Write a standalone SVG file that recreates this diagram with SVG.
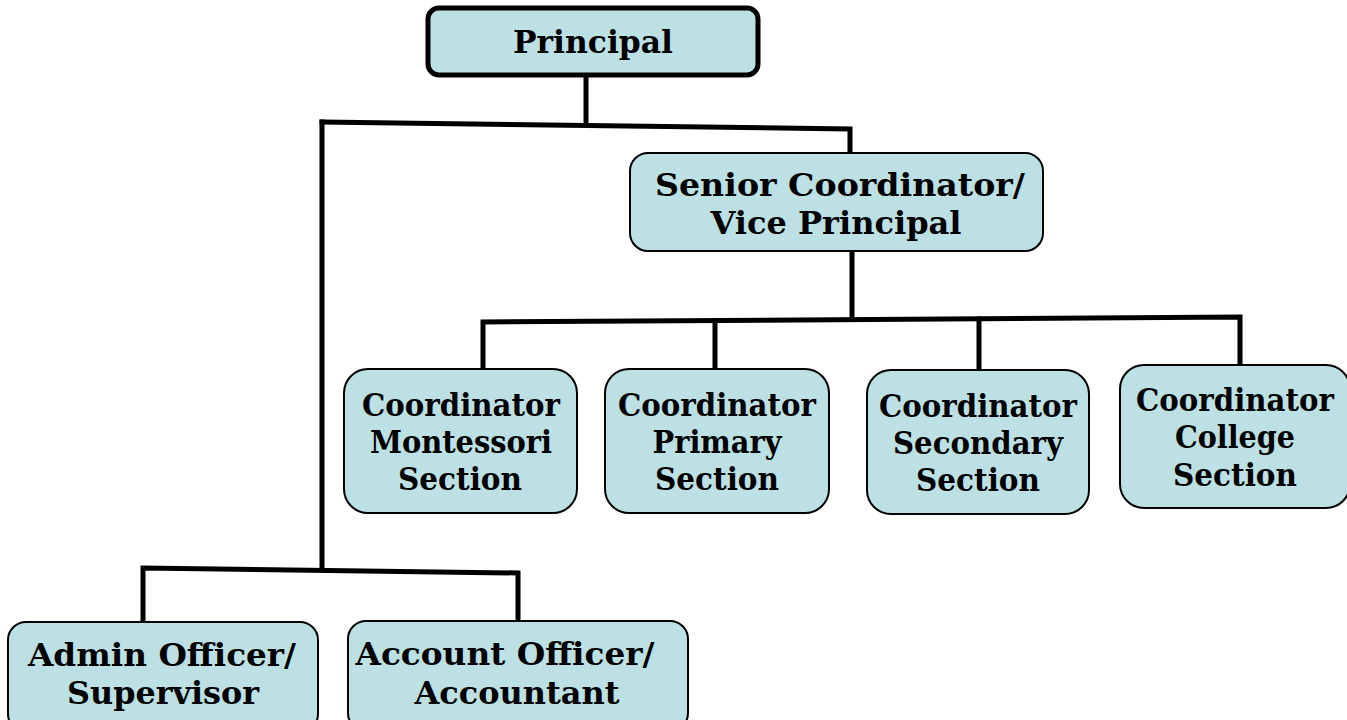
<svg xmlns="http://www.w3.org/2000/svg" width="1347" height="720" viewBox="0 0 1347 720">
  <style>
    .box { fill: #bce0e3; stroke: #000; stroke-width: 2; }
    .top { stroke-width: 5; }
    .lbl { font-family: "DejaVu Serif", "Liberation Serif", serif; font-weight: bold; font-size: 32px; fill: #000; text-anchor: middle; }
    .wire { fill: none; stroke: #000; stroke-width: 5; stroke-linecap: square; }
  </style>
  <rect width="1347" height="720" fill="#fff"/>

  <g id="connectors">
    <path class="wire" d="M586 76 V125"/>
    <path class="wire" d="M322 122 L850 129 V152"/>
    <path class="wire" d="M322 122 V568"/>
    <path class="wire" d="M852 252 V319"/>
    <path class="wire" d="M483 368 V322 L1240 317 V364"/>
    <path class="wire" d="M715 321 V368"/>
    <path class="wire" d="M979 319 V369"/>
    <path class="wire" d="M143 622 V568 L518 573 V620"/>
  </g>

  <g id="principal">
    <rect class="box top" x="428" y="8" width="330" height="67" rx="11"/>
    <text class="lbl" x="593" y="53" textLength="160" lengthAdjust="spacingAndGlyphs">Principal</text>
  </g>

  <g id="senior-coordinator">
    <rect class="box" x="630" y="153" width="413" height="98" rx="18"/>
    <text class="lbl" x="840" y="196" textLength="370" lengthAdjust="spacingAndGlyphs">Senior Coordinator/</text>
    <text class="lbl" x="836" y="234" textLength="251" lengthAdjust="spacingAndGlyphs">Vice Principal</text>
  </g>

  <g id="coord-montessori">
    <rect class="box" x="344" y="369" width="233" height="144" rx="24"/>
    <text class="lbl" x="461" y="416" textLength="198" lengthAdjust="spacingAndGlyphs">Coordinator</text>
    <text class="lbl" x="461" y="453" textLength="182" lengthAdjust="spacingAndGlyphs">Montessori</text>
    <text class="lbl" x="460" y="490" textLength="124" lengthAdjust="spacingAndGlyphs">Section</text>
  </g>

  <g id="coord-primary">
    <rect class="box" x="605" y="369" width="224" height="144" rx="24"/>
    <text class="lbl" x="717" y="416" textLength="198" lengthAdjust="spacingAndGlyphs">Coordinator</text>
    <text class="lbl" x="717" y="453" textLength="129" lengthAdjust="spacingAndGlyphs">Primary</text>
    <text class="lbl" x="717" y="490" textLength="124" lengthAdjust="spacingAndGlyphs">Section</text>
  </g>

  <g id="coord-secondary">
    <rect class="box" x="867" y="370" width="222" height="144" rx="24"/>
    <text class="lbl" x="978" y="417" textLength="198" lengthAdjust="spacingAndGlyphs">Coordinator</text>
    <text class="lbl" x="978" y="454" textLength="170" lengthAdjust="spacingAndGlyphs">Secondary</text>
    <text class="lbl" x="978" y="491" textLength="124" lengthAdjust="spacingAndGlyphs">Section</text>
  </g>

  <g id="coord-college">
    <rect class="box" x="1120" y="365" width="230" height="143" rx="24"/>
    <text class="lbl" x="1235" y="411" textLength="198" lengthAdjust="spacingAndGlyphs">Coordinator</text>
    <text class="lbl" x="1235" y="448" textLength="120" lengthAdjust="spacingAndGlyphs">College</text>
    <text class="lbl" x="1235" y="486" textLength="124" lengthAdjust="spacingAndGlyphs">Section</text>
  </g>

  <g id="admin-officer">
    <rect class="box" x="8" y="622" width="310" height="110" rx="18"/>
    <text class="lbl" x="162" y="666" textLength="268" lengthAdjust="spacingAndGlyphs">Admin Officer/</text>
    <text class="lbl" x="163" y="704" textLength="192" lengthAdjust="spacingAndGlyphs">Supervisor</text>
  </g>

  <g id="account-officer">
    <rect class="box" x="348" y="621" width="340" height="110" rx="18"/>
    <text class="lbl" x="505" y="665" textLength="299" lengthAdjust="spacingAndGlyphs">Account Officer/</text>
    <text class="lbl" x="517" y="704" textLength="205" lengthAdjust="spacingAndGlyphs">Accountant</text>
  </g>
</svg>
